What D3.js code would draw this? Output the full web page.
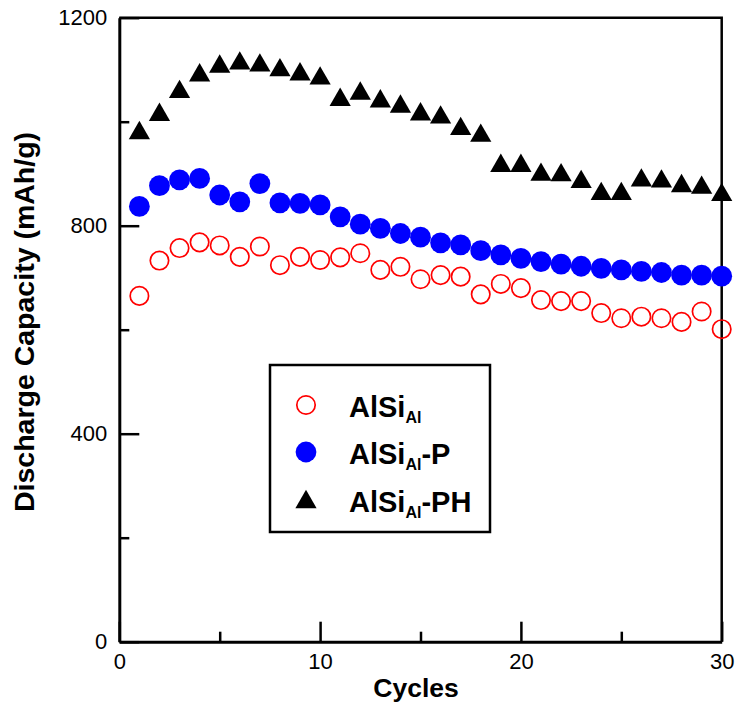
<!DOCTYPE html>
<html>
<head>
<meta charset="utf-8">
<script src="https://cdn.jsdelivr.net/npm/d3@7"></script>
<style>
  body { margin: 0; background: #fff; }
  svg text { font-family: Arial, "Liberation Sans", sans-serif; }
</style>
</head>
<body>
<svg id="chart" width="739" height="710"></svg>
<script>
var cycles = d3.range(1, 31);
var alsi = [665,733,757,768,762,740,760,724,740,734,739,747,715,721,697,705,702,668,688,680,657,655,655,632,622,625,622,615,635,601];
var alsiP = [837,877,888,891,859,846,881,844,843,840,817,803,795,785,778,767,763,752,744,737,731,726,722,718,715,712,710,705,705,703];
var alsiPH = [982,1017,1061,1093,1110,1116,1112,1103,1095,1087,1046,1058,1043,1033,1018,1012,990,977,919,919,902,901,888,865,865,891,889,880,877,863];
var xMajor = [0, 10, 20, 30];
var xMinor = [5, 15, 25];
var yMajor = [0, 400, 800, 1200];
var yMinor = [200, 600, 1000];

var svg = d3.select("#chart");
var pLeft = 119.3, pRight = 721.7, pTop = 17.7, pBottom = 641.7;

var x = d3.scaleLinear().domain([0, 30]).range([pLeft, pRight]);
var y = d3.scaleLinear().domain([0, 1200]).range([pBottom, pTop]);

// frame (top + right)
svg.append("path")
  .attr("d", "M" + pLeft + "," + pTop + "H" + pRight + "V" + pBottom)
  .attr("fill", "none").attr("stroke", "#000").attr("stroke-width", 2.5);

// axes with inward ticks
function styleAxis(g) {
  g.select(".domain").attr("stroke-width", 3);
  g.selectAll(".tick line").attr("stroke-width", 2.5);
  g.selectAll(".tick text").attr("font-size", 22).attr("fill", "#000");
}

var xAxis = svg.append("g").attr("transform", "translate(0," + pBottom + ")")
  .call(d3.axisBottom(x).tickValues(xMajor).tickSizeInner(-20).tickSizeOuter(0).tickPadding(12).tickFormat(d3.format("d")));
styleAxis(xAxis);
svg.append("g").attr("transform", "translate(0," + pBottom + ")")
  .call(d3.axisBottom(x).tickValues(xMinor).tickSize(-10).tickFormat(""))
  .call(function(g) { g.select(".domain").remove(); g.selectAll("line").attr("stroke-width", 2.5); });

var yAxis = svg.append("g").attr("transform", "translate(" + pLeft + ",0)")
  .call(d3.axisLeft(y).tickValues(yMajor).tickSizeInner(-20).tickSizeOuter(0).tickPadding(12).tickFormat(d3.format("d")));
styleAxis(yAxis);
svg.append("g").attr("transform", "translate(" + pLeft + ",0)")
  .call(d3.axisLeft(y).tickValues(yMinor).tickSize(-10).tickFormat(""))
  .call(function(g) { g.select(".domain").remove(); g.selectAll("line").attr("stroke-width", 2.5); });

// axis titles
svg.append("text").attr("x", 416).attr("y", 697).attr("text-anchor", "middle")
  .attr("font-size", 26.5).attr("font-weight", "bold").text("Cycles");
svg.append("text").attr("transform", "translate(34,322) rotate(-90)").attr("text-anchor", "middle")
  .attr("font-size", 28.5).attr("font-weight", "bold").text("Discharge Capacity (mAh/g)");

var tri = d3.symbol().type(d3.symbolTriangle).size(195);

// series
svg.append("g").selectAll("circle").data(alsi).join("circle")
  .attr("cx", function(d, i) { return x(cycles[i]); })
  .attr("cy", function(d) { return y(d); })
  .attr("r", 9.2).attr("fill", "none").attr("stroke", "#f00").attr("stroke-width", 1.7);

svg.append("g").selectAll("circle").data(alsiP).join("circle")
  .attr("cx", function(d, i) { return x(cycles[i]); })
  .attr("cy", function(d) { return y(d); })
  .attr("r", 10.4).attr("fill", "#0000ff");

svg.append("g").selectAll("path").data(alsiPH).join("path")
  .attr("d", tri)
  .attr("transform", function(d, i) { return "translate(" + x(cycles[i]) + "," + (y(d) + 2) + ")"; })
  .attr("fill", "#000");

// legend
var lg = svg.append("g");
lg.append("rect").attr("x", 270).attr("y", 365).attr("width", 220).attr("height", 167)
  .attr("fill", "#fff").attr("stroke", "#000").attr("stroke-width", 2.5);

var legendNames = ["", "-P", "-PH"];
var legendY = [405, 452, 500];
legendNames.forEach(function(suffix, i) {
  var cy = legendY[i];
  if (i == 0) lg.append("circle").attr("cx", 306).attr("cy", cy).attr("r", 9.2)
    .attr("fill", "none").attr("stroke", "#f00").attr("stroke-width", 1.7);
  if (i == 1) lg.append("circle").attr("cx", 306).attr("cy", cy).attr("r", 10.4).attr("fill", "#0000ff");
  if (i == 2) lg.append("path").attr("d", tri).attr("transform", "translate(306," + (cy + 2) + ")").attr("fill", "#000");
  var t = lg.append("text").attr("x", 349).attr("y", cy + 12).attr("font-size", 29).attr("font-weight", "bold");
  t.append("tspan").text("AlSi");
  t.append("tspan").attr("font-size", 16).attr("dy", 6).text("Al");
  t.append("tspan").attr("dy", -6).text(suffix);
});
</script>
</body>
</html>
